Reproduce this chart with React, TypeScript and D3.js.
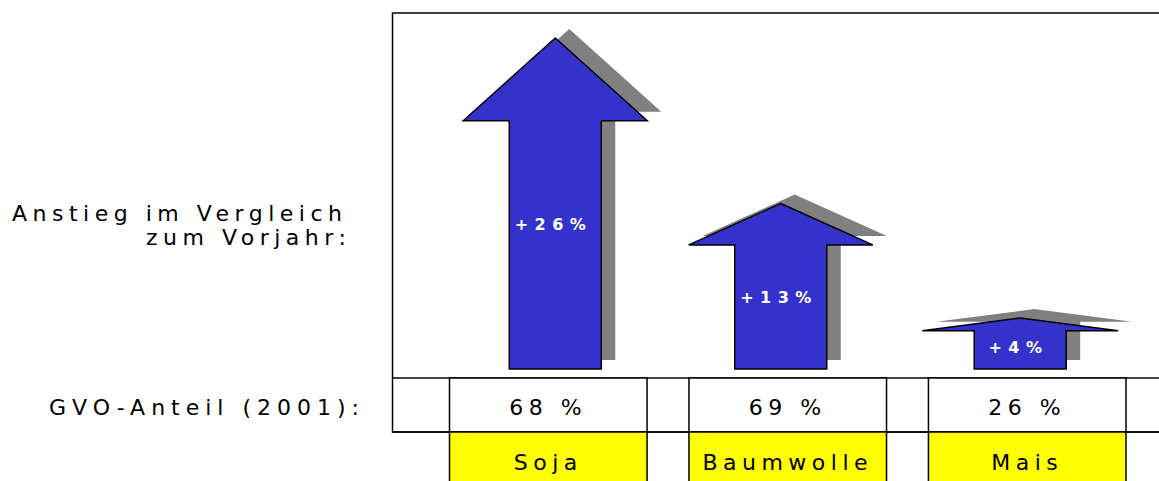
import React from "react";
import * as d3 from "d3";

const categories = ["Soja", "Baumwolle", "Mais"];
const increasePct = [26, 13, 4];
const sharePct = [68, 69, 26];
const increaseLabels = ["+26%", "+13%", "+4%"];
const shareLabels = sharePct.map((v) => `${v} %`);
const rowLabel1 = ["Anstieg im Vergleich", "zum Vorjahr:"];
const rowLabel2 = "GVO-Anteil (2001):";

// layout constants
const W = 1159;
const H = 481;
const arrowShift = [7, -7, -7];
const headHalf = [92, 92, 98];
const shaftHalf = 46;
const shadowDx = 14;
const shadowDy = -9;
const FONT = "DejaVu Sans, Verdana, sans-serif";

export default function App() {
  const x = d3
    .scaleBand<string>()
    .domain(categories)
    .range([449.5, 1126])
    .paddingInner(0.175)
    .paddingOuter(0);
  const y = d3.scaleLinear().domain([0, 26]).range([369, 38]);
  const base = y(0);

  const arrowPath = (i: number, dx = 0, dy = 0) => {
    const cx = (x(categories[i]) as number) + x.bandwidth() / 2 + arrowShift[i] + dx;
    const tip = y(increasePct[i]) + dy;
    const bot = base + dy;
    const headBase = tip + 0.25 * (bot - tip);
    const p = d3.path();
    p.moveTo(cx, tip);
    p.lineTo(cx + headHalf[i], headBase);
    p.lineTo(cx + shaftHalf, headBase);
    p.lineTo(cx + shaftHalf, bot);
    p.lineTo(cx - shaftHalf, bot);
    p.lineTo(cx - shaftHalf, headBase);
    p.lineTo(cx - headHalf[i], headBase);
    p.closePath();
    return p.toString();
  };

  const textStyle = {
    fontFamily: FONT,
    fontSize: 22,
    letterSpacing: 5.5,
  } as React.CSSProperties;

  return (
    <svg
      width={W}
      height={H}
      style={{ position: "absolute", left: 0, top: 0, background: "#fff" }}
    >
      {/* frame */}
      <rect x={392.5} y={13} width={900} height={419} fill="#fff" stroke="#000" strokeWidth={1.5} />
      <line x1={392.5} x2={W} y1={378} y2={378} stroke="#000" strokeWidth={1.5} />

      {/* arrows */}
      {categories.map((c, i) => (
        <path key={"s" + c} d={arrowPath(i, shadowDx, shadowDy)} fill="#808080" stroke="none" />
      ))}
      {categories.map((c, i) => (
        <path key={"a" + c} d={arrowPath(i)} fill="#3333cc" stroke="#000" strokeWidth={1.5} strokeLinejoin="miter" />
      ))}
      {categories.map((c, i) => {
        const cx = (x(c) as number) + x.bandwidth() / 2 + arrowShift[i];
        const h = base - y(increasePct[i]);
        return (
          <text
            key={"l" + c}
            x={cx - 1.75}
            y={base - 0.44 * h + 6.5}
            textAnchor="middle"
            fill="#fff"
            style={{ fontFamily: FONT, fontSize: 16, fontWeight: "bold", letterSpacing: 6.5 }}
          >
            {increaseLabels[i]}
          </text>
        );
      })}

      {/* value cells */}
      {categories.map((c, i) => (
        <g key={"v" + c}>
          <rect x={x(c)} y={378} width={x.bandwidth()} height={54} fill="#fff" stroke="#000" strokeWidth={1.5} />
          <text x={(x(c) as number) + x.bandwidth() / 2} y={414.5} textAnchor="middle" fill="#000" style={textStyle}>
            {shareLabels[i]}
          </text>
        </g>
      ))}
      <line x1={392.5} x2={W} y1={432} y2={432} stroke="#000" strokeWidth={1.5} />

      {/* category cells */}
      {categories.map((c) => (
        <g key={"c" + c}>
          <rect x={x(c)} y={432} width={x.bandwidth()} height={70} fill="#ffff00" stroke="#000" strokeWidth={1.5} />
          <text x={(x(c) as number) + x.bandwidth() / 2} y={469.5} textAnchor="middle" fill="#000" style={textStyle}>
            {c}
          </text>
        </g>
      ))}

      {/* row labels */}
      <text x={12} y={220.5} fill="#000" style={textStyle}>{rowLabel1[0]}</text>
      <text x={146} y={245} fill="#000" style={textStyle}>{rowLabel1[1]}</text>
      <text x={49} y={414.5} fill="#000" style={{ ...textStyle, letterSpacing: 6 }}>{rowLabel2}</text>
    </svg>
  );
}
